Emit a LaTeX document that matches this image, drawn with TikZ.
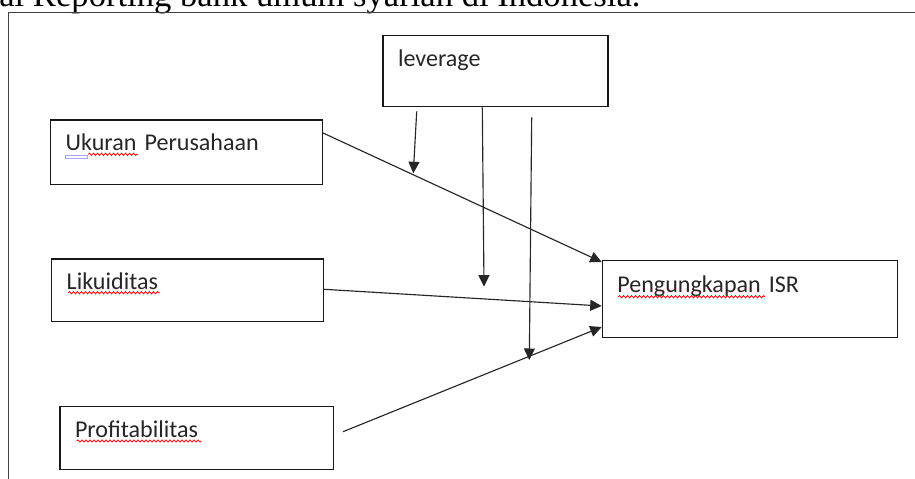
\documentclass[tikz,border=0pt]{standalone}
\usepackage{fontspec}
\setmainfont{Carlito}
\newfontfamily\capfont{Liberation Serif}
\usetikzlibrary{arrows.meta,decorations.pathmorphing}

\begin{document}
\begin{tikzpicture}[x=0.02cm,y=-0.02cm,>={Triangle[length=0.23cm,width=0.22cm]},
  box/.style={draw=black!90,line width=0.8pt,rectangle,anchor=north west,align=left,
    inner xsep=0.3cm,inner ysep=0pt,text height=0.62cm,
    font=\fontsize{13.7}{16}\selectfont,text=black!85},
  link/.style={->,draw=black!85,line width=0.65pt},
  spellerr/.style={red,line width=0.45pt,decorate,
    decoration={snake,segment length=0.08cm,amplitude=0.022cm}},
  grammarerr/.style={draw=blue!35,line width=0.5pt}]
  \useasboundingbox (0,0) rectangle (915,479);
  \clip (0,0) rectangle (915,479);
  % caption line, cut by the top of the page
  \node[anchor=base west,inner sep=0pt,font=\capfont\fontsize{19.7}{22}\selectfont] (caption) at (-1,6.5)
    {al Reporting bank umum syariah di Indonesia.};
  \draw[black!75,line width=0.8pt] (8.5,479) -- (8.5,12.3) -- (915,12.3);

  % variables
  \node[box,text width=3.9cm,text depth=0.8cm] (lev) at (382.3,35) {leverage};
  \node[box,text width=4.834cm,text depth=0.674cm] (uk) at (50,119.3) {Ukuran Perusahaan};
  \node[box,text width=4.834cm,text depth=0.634cm] (lik) at (51,258.3) {Likuiditas};
  \node[box,text width=4.868cm,text depth=0.646cm] (prof) at (59.3,405.7) {Profitabilitas};
  \node[box,text width=5.3cm,text depth=0.888cm,text height=0.646cm] (isr) at (601.7,260) {Pengungkapan ISR};

  % proofing marks under the words
  \draw[grammarerr] ([shift={(15.5,36)}]uk.north west) rectangle ([shift={(37,39.5)}]uk.north west);
  \draw[spellerr] ([shift={(38.3,35)}]uk.north west) -- ([shift={(88.3,35)}]uk.north west);
  \draw[spellerr] ([shift={(17.3,34.4)}]lik.north west) -- ([shift={(109,34.4)}]lik.north west);
  \draw[spellerr] ([shift={(17.4,35.3)}]prof.north west) -- ([shift={(142.4,35.3)}]prof.north west);
  \draw[spellerr] ([shift={(16.6,36.7)}]isr.north west) -- ([shift={(163.3,36.7)}]isr.north west);

  % paths to ISR
  \draw[link] ([shift={(0,13.7)}]uk.north east) -- ([shift={(0,2)}]isr.north west);
  \draw[link] ([shift={(0,31)}]lik.north east) -- ([shift={(0,46)}]isr.north west);
  \draw[link] ([shift={(9,26)}]prof.north east) -- ([shift={(0,67)}]isr.north west);

  % moderating arrows from leverage
  \coordinate (tipA) at (413.3,173.3);
  \coordinate (tipB) at (484,286.7);
  \coordinate (tipC) at (529.3,360);
  \draw[link] ([shift={(34.4,4)}]lev.south west) -- (tipA);
  \draw[link] ([shift={(100,0)}]lev.south west) -- (tipB);
  \draw[link] ([shift={(149.4,10)}]lev.south west) -- (tipC);
\end{tikzpicture}
\end{document}
